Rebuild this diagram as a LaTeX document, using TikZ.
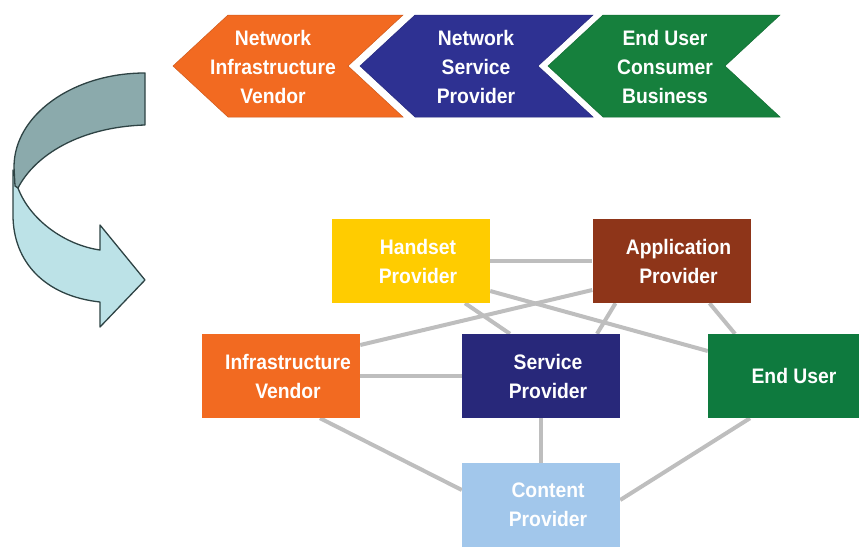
\documentclass[tikz,border=0pt]{standalone}
\usepackage{fontspec}
\setmainfont{Liberation Sans}[FakeStretch=0.92]
\usetikzlibrary{backgrounds}

\definecolor{cOrange}{HTML}{F26A21}
\definecolor{cBlue}{HTML}{2E3192}
\definecolor{cGreen}{HTML}{16803D}
\definecolor{cYellow}{HTML}{FFCC00}
\definecolor{cBrown}{HTML}{8E3519}
\definecolor{cNavy}{HTML}{28287A}
\definecolor{cDkGreen}{HTML}{0E7A3E}
\definecolor{cLtBlue}{HTML}{A2C7EB}
\definecolor{cLink}{HTML}{BEBEBE}
\definecolor{cArrowDark}{HTML}{8BAAAC}
\definecolor{cArrowLight}{HTML}{BCE2E7}
\definecolor{cArrowLine}{HTML}{2E4344}

\tikzset{
  label text/.style={text=white, font=\fontsize{21}{29}\selectfont\bfseries, align=center, inner sep=0pt},
  rolebox/.style={minimum width=158pt, minimum height=84pt, inner sep=0pt},
  chevron/.style={draw=#1!85!black, line width=0.5pt, fill=#1},
  link/.style={draw=cLink, line width=4pt},
  turnarrow/.style={draw=cArrowLine, line width=1.3pt, line join=round}
}

\begin{document}
\begin{tikzpicture}[x=1pt, y=-1pt]
\useasboundingbox (0,0) rectangle (859,546);

% value chain chevrons
\path[chevron=cOrange] (173,66) -- (228,15) -- (403,15) -- (348,66) -- (403,117) -- (228,117) -- cycle;
\path[chevron=cBlue]   (360,66) -- (415,15) -- (593,15) -- (538,66) -- (593,117) -- (415,117) -- cycle;
\path[chevron=cGreen]  (548,66) -- (603,15) -- (780,15) -- (725,66) -- (780,117) -- (603,117) -- cycle;
\node[label text] (niv) at (273,67) {Network\\Infrastructure\\Vendor};
\node[label text] (nsp) at (476,67) {Network\\Service\\Provider};
\node[label text] (euc) at (665,67) {End User\\Consumer\\Business};

% U-turn arrow
\path[turnarrow, fill=cArrowLight]
  (18,188) .. controls (30,220) and (65,245) .. (100,250)
  -- (100,225) -- (145,280) -- (100,327) -- (100,302)
  .. controls (45,296) and (13,262) .. (13,215) -- (13,170) -- cycle;
\path[turnarrow, fill=cArrowDark]
  (145,73) .. controls (73,73) and (14,115) .. (14,167)
  -- (15,186) -- (18,188) .. controls (35,155) and (80,127) .. (145,125) -- cycle;

% ecosystem roles
\node[rolebox, fill=cYellow,
  label={[label text, name=handtxt, xshift=7pt]center:{Handset\\Provider}}] (hand) at (411,261) {};
\node[rolebox, fill=cBrown,
  label={[label text, name=apptxt, xshift=7pt]center:{Application\\Provider}}] (app) at (671.5,261) {};
\node[rolebox, fill=cOrange,
  label={[label text, name=infratxt, xshift=7pt]center:{Infrastructure\\Vendor}}] (infra) at (281,376) {};
\node[rolebox, fill=cNavy,
  label={[label text, name=servtxt, xshift=7pt]center:{Service\\Provider}}] (serv) at (541,376) {};
\node[rolebox, fill=cDkGreen,
  label={[label text, name=endtxt, xshift=7pt]center:{End User}}] (end) at (787,376) {};
\node[rolebox, fill=cLtBlue,
  label={[label text, name=conttxt, xshift=7pt]center:{Content\\Provider}}] (cont) at (541,505) {};

\begin{scope}[on background layer]
  \draw[link] (hand) -- (app);
  \draw[link] ([xshift=54pt]hand.south) -- ([xshift=-31pt]serv.north);
  \draw[link] ([yshift=-30pt]hand.east) -- ([yshift=25pt]end.west);
  \draw[link] ([yshift=-29pt]app.west) -- ([yshift=31pt]infra.east);
  \draw[link] ([xshift=-56pt]app.south) -- ([xshift=56pt]serv.north);
  \draw[link] ([xshift=38pt]app.south) -- ([xshift=-52pt]end.north);
  \draw[link] (infra) -- (serv);
  \draw[link] ([xshift=39pt]infra.south) -- ([yshift=15pt]cont.west);
  \draw[link] (serv) -- (cont);
  \draw[link] ([xshift=-37pt]end.south) -- ([yshift=5pt]cont.east);
\end{scope}
\end{tikzpicture}
\end{document}
